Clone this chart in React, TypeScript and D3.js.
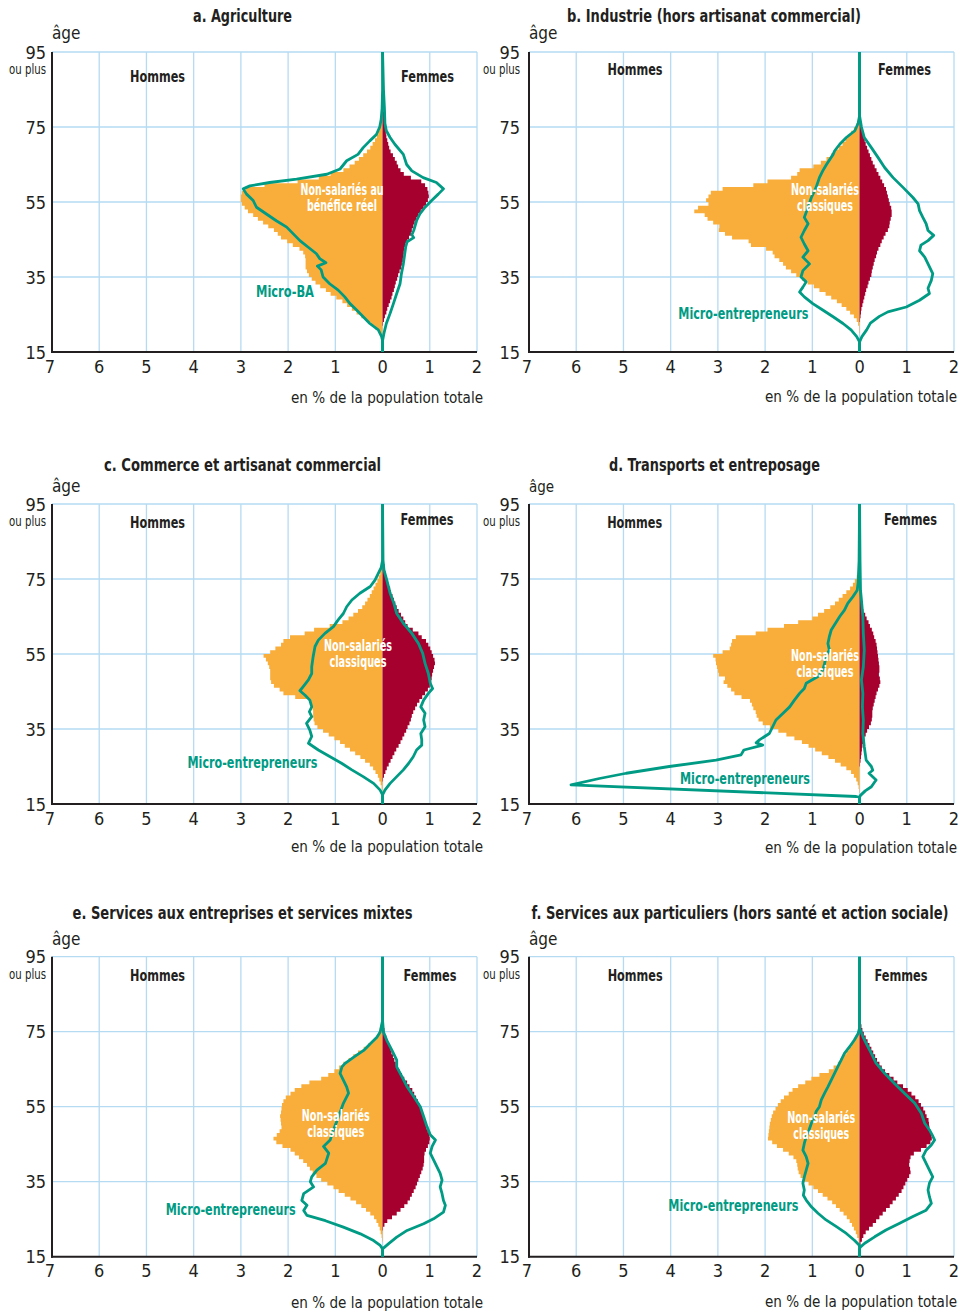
import React from 'react';
import * as d3 from 'd3';

const W = 967;
const H = 1313;
const FONT = "'Liberation Sans Narrow','Arial Narrow','DejaVu Sans Condensed','Roboto Condensed',sans-serif";
const ORANGE = '#F9AE3B';
const RED = '#A6002F';
const GREEN = '#009B84';
const GRID = '#B5DBF3';
const INK = '#231F20';

// Bars: one value per single year of age, starting at age 80 and going down to age 17
const BAR_TOP_AGE = 80;
const Y_TICKS = [95, 75, 55, 35, 15];
const X_TICKS = [-7, -6, -5, -4, -3, -2, -1, 0, 1, 2];
const X_TICK_LABELS = ['7', '6', '5', '4', '3', '2', '1', '0', '1', '2'];

// a. Agriculture
const aMenNS = [0, 0.01, 0.01, 0.02, 0.03, 0.04, 0.06, 0.09, 0.12, 0.16, 0.21, 0.26, 0.33, 0.41, 0.5, 0.59, 0.7, 0.83, 1.1, 1.35, 1.8, 2.5, 2.9, 2.98, 3.0, 3.0, 2.98, 2.92, 2.85, 2.74, 2.64, 2.53, 2.42, 2.3, 2.22, 2.15, 2.02, 1.9, 1.76, 1.68, 1.64, 1.63, 1.63, 1.63, 1.6, 1.56, 1.5, 1.42, 1.32, 1.2, 1.1, 0.98, 0.85, 0.75, 0.65, 0.55, 0.45, 0.35, 0.25, 0.16, 0.08, 0.03, 0.01, 0];
const aWomenNS = [0.02, 0.02, 0.03, 0.03, 0.04, 0.05, 0.06, 0.07, 0.08, 0.1, 0.12, 0.14, 0.17, 0.22, 0.26, 0.3, 0.33, 0.38, 0.45, 0.6, 0.82, 0.9, 0.95, 0.97, 0.98, 0.96, 0.92, 0.87, 0.81, 0.76, 0.72, 0.68, 0.65, 0.62, 0.6, 0.56, 0.52, 0.48, 0.46, 0.45, 0.44, 0.43, 0.41, 0.39, 0.36, 0.33, 0.31, 0.28, 0.26, 0.24, 0.21, 0.19, 0.16, 0.13, 0.1, 0.08, 0.05, 0.03, 0.01, 0, 0, 0, 0, 0];
const aMenMicro: [number, number][] = [[95, 0], [85, 0], [80, 0.01], [77, 0.03], [75, 0.06], [73, 0.13], [71.3, 0.27], [69.5, 0.41], [67.7, 0.52], [66, 0.76], [63.8, 0.9], [62.4, 1.18], [61.1, 1.82], [60.2, 2.39], [59.3, 2.81], [58.5, 2.95], [57.1, 2.88], [55.4, 2.74], [53.6, 2.67], [51.8, 2.46], [50, 2.25], [48.3, 2.03], [46.5, 1.89], [44.7, 1.75], [43, 1.58], [41.2, 1.4], [39.9, 1.33], [38.8, 1.2], [37.9, 1.38], [36.9, 1.3], [35, 1.26], [33.2, 1.12], [31.5, 0.94], [29.7, 0.8], [27.9, 0.69], [26.2, 0.55], [24.4, 0.41], [22.6, 0.27], [20.9, 0.09], [19.1, 0.02], [18, 0], [15, 0]];
const aWomenMicro: [number, number][] = [[95, 0], [85, 0.02], [80, 0.04], [76, 0.05], [74, 0.08], [72.2, 0.16], [70.4, 0.26], [67.7, 0.44], [65, 0.51], [63.3, 0.62], [61.5, 0.86], [60.2, 1.14], [58.5, 1.29], [57.1, 1.18], [55.4, 1.04], [53.6, 0.9], [51.8, 0.79], [50, 0.72], [47.4, 0.66], [46.3, 0.62], [45.5, 0.66], [44.4, 0.52], [43, 0.49], [41.2, 0.47], [38.5, 0.44], [35.9, 0.4], [33.2, 0.37], [30.6, 0.3], [27.9, 0.23], [25.3, 0.16], [22.6, 0.08], [20, 0.03], [18, 0], [15, 0]];

// b. Industrie
const bMenNS = [0, 0, 0.01, 0.02, 0.04, 0.07, 0.12, 0.18, 0.25, 0.3, 0.36, 0.44, 0.52, 0.6, 0.7, 0.82, 0.98, 1.27, 1.32, 1.45, 1.95, 2.25, 2.9, 3.15, 3.2, 3.25, 3.2, 3.42, 3.5, 3.28, 3.22, 3.1, 2.97, 2.98, 2.85, 2.7, 2.35, 2.3, 1.98, 1.84, 1.8, 1.7, 1.62, 1.56, 1.45, 1.34, 1.22, 1.1, 0.97, 0.85, 0.72, 0.6, 0.48, 0.38, 0.28, 0.2, 0.12, 0.06, 0.03, 0.01, 0.01, 0, 0, 0];
const bWomenNS = [0, 0.01, 0.01, 0.02, 0.03, 0.04, 0.06, 0.07, 0.09, 0.11, 0.13, 0.16, 0.19, 0.22, 0.25, 0.28, 0.32, 0.36, 0.4, 0.44, 0.48, 0.52, 0.56, 0.58, 0.6, 0.62, 0.64, 0.67, 0.68, 0.68, 0.66, 0.64, 0.63, 0.6, 0.55, 0.51, 0.47, 0.44, 0.4, 0.37, 0.35, 0.32, 0.3, 0.28, 0.26, 0.25, 0.22, 0.19, 0.17, 0.14, 0.12, 0.1, 0.08, 0.06, 0.04, 0.03, 0.02, 0.01, 0, 0, 0, 0, 0, 0];
const bMenMicro: [number, number][] = [[95, 0], [78, 0], [76, 0.03], [74, 0.1], [72.2, 0.28], [70.4, 0.42], [68.6, 0.53], [67.7, 0.56], [65, 0.7], [63.3, 0.78], [61.5, 0.85], [58.9, 0.92], [56.2, 1.02], [53.6, 1.09], [50.9, 1.17], [49.2, 1.09], [47.4, 1.17], [45.6, 1.24], [43.8, 1.17], [42, 1.09], [40.3, 1.2], [38.5, 1.06], [36.7, 1.2], [35, 1.24], [33.7, 1.13], [32.3, 1.2], [31, 1.27], [29.7, 1.17], [27.9, 0.99], [26.2, 0.78], [24.4, 0.56], [22.6, 0.35], [20.9, 0.18], [19.1, 0.06], [17.7, 0], [15, 0]];
const bWomenMicro: [number, number][] = [[95, 0], [78, 0], [75, 0.04], [72.2, 0.1], [69.5, 0.25], [66.9, 0.39], [64.2, 0.53], [61.5, 0.71], [58.9, 0.92], [56.2, 1.13], [54.5, 1.24], [52.7, 1.27], [50.9, 1.34], [49.2, 1.41], [47.4, 1.45], [46.1, 1.57], [44.7, 1.45], [43.5, 1.3], [42, 1.27], [40.3, 1.38], [38.5, 1.45], [35.9, 1.55], [34.1, 1.52], [32, 1.45], [30.6, 1.48], [28.8, 1.27], [27, 0.99], [25.7, 0.6], [24.5, 0.42], [22.7, 0.23], [20.9, 0.15], [19.1, 0.05], [17.7, 0], [15, 0]];

// c. Commerce et artisanat commercial
const cMenNS = [0.01, 0.01, 0.02, 0.03, 0.05, 0.08, 0.11, 0.15, 0.19, 0.23, 0.27, 0.32, 0.37, 0.43, 0.52, 0.62, 0.72, 0.85, 1.12, 1.45, 1.65, 1.96, 2.1, 2.15, 2.27, 2.38, 2.52, 2.47, 2.43, 2.4, 2.38, 2.38, 2.38, 2.36, 2.3, 2.18, 2.1, 1.85, 1.55, 1.5, 1.48, 1.47, 1.47, 1.46, 1.44, 1.38, 1.26, 1.14, 1.02, 0.9, 0.8, 0.69, 0.58, 0.47, 0.37, 0.27, 0.2, 0.15, 0.1, 0.07, 0.04, 0.02, 0.01, 0];
const cWomenNS = [0.02, 0.03, 0.04, 0.05, 0.06, 0.08, 0.1, 0.13, 0.16, 0.18, 0.21, 0.24, 0.27, 0.3, 0.34, 0.39, 0.44, 0.48, 0.53, 0.64, 0.76, 0.83, 0.92, 0.97, 1.01, 1.04, 1.07, 1.1, 1.11, 1.09, 1.07, 1.05, 1.04, 1.03, 1.0, 0.96, 0.9, 0.84, 0.78, 0.73, 0.69, 0.65, 0.62, 0.6, 0.57, 0.53, 0.5, 0.46, 0.42, 0.38, 0.34, 0.29, 0.25, 0.21, 0.17, 0.13, 0.09, 0.06, 0.03, 0.01, 0, 0, 0, 0];
const cMenMicro: [number, number][] = [[95, 0], [80, 0], [78, 0.03], [76.5, 0.09], [74.7, 0.16], [73, 0.26], [71.2, 0.48], [69.4, 0.65], [67.6, 0.76], [65.8, 0.83], [64.1, 0.94], [62.3, 1.04], [60.5, 1.22], [58.7, 1.36], [57, 1.43], [54.3, 1.47], [51.6, 1.5], [49.8, 1.5], [48.1, 1.57], [46.3, 1.68], [45.2, 1.75], [44, 1.64], [42.7, 1.54], [40.9, 1.5], [39.6, 1.55], [38.3, 1.5], [36.5, 1.61], [34.7, 1.54], [33, 1.5], [31.2, 1.57], [29.4, 1.36], [27.6, 1.11], [25.8, 0.86], [24.1, 0.65], [22.3, 0.41], [20.5, 0.19], [18.7, 0.05], [17.4, 0], [15, 0]];
const cWomenMicro: [number, number][] = [[95, 0], [80, 0.01], [77.4, 0.03], [74.7, 0.09], [71.2, 0.16], [68.5, 0.24], [65.8, 0.3], [63.2, 0.44], [60.5, 0.62], [57.8, 0.76], [55.2, 0.85], [52.5, 0.9], [49.8, 0.97], [47.2, 1.01], [45.8, 1.06], [44.5, 0.97], [42.7, 0.87], [40.9, 0.81], [39.2, 0.9], [37.4, 0.87], [35.6, 0.9], [33.8, 0.81], [32.1, 0.83], [30.7, 0.83], [29.4, 0.72], [27.6, 0.65], [25.8, 0.55], [24.1, 0.44], [22.3, 0.3], [20.5, 0.16], [18.7, 0.05], [17.4, 0], [15, 0]];

// d. Transports et entreposage
const dMenNS = [0, 0, 0.01, 0.02, 0.04, 0.06, 0.1, 0.14, 0.2, 0.28, 0.36, 0.44, 0.52, 0.62, 0.75, 0.88, 1.0, 1.3, 1.6, 1.95, 2.2, 2.62, 2.7, 2.72, 2.75, 2.9, 3.1, 3.05, 3.04, 3.02, 3.0, 2.98, 2.85, 2.88, 2.8, 2.72, 2.65, 2.5, 2.32, 2.28, 2.25, 2.2, 2.18, 2.14, 2.05, 1.9, 1.72, 1.55, 1.38, 1.22, 1.08, 0.94, 0.8, 0.66, 0.52, 0.4, 0.28, 0.18, 0.12, 0.07, 0.04, 0.02, 0.01, 0];
const dWomenNS = [0, 0, 0, 0, 0.01, 0.01, 0.01, 0.01, 0.02, 0.02, 0.02, 0.03, 0.04, 0.05, 0.08, 0.12, 0.15, 0.19, 0.22, 0.26, 0.29, 0.31, 0.34, 0.36, 0.37, 0.38, 0.39, 0.4, 0.41, 0.42, 0.42, 0.41, 0.43, 0.44, 0.42, 0.39, 0.36, 0.34, 0.32, 0.3, 0.28, 0.27, 0.27, 0.26, 0.24, 0.2, 0.16, 0.13, 0.1, 0.08, 0.06, 0.05, 0.04, 0.03, 0.02, 0.01, 0, 0, 0, 0, 0, 0, 0, 0];
const dMenMicro: [number, number][] = [[95, 0], [80, 0.01], [74, 0.03], [72, 0.05], [70.3, 0.14], [68.5, 0.25], [66.7, 0.32], [65, 0.42], [63.2, 0.51], [61.4, 0.6], [59.6, 0.64], [57.8, 0.67], [56.1, 0.64], [54.3, 0.71], [52.5, 0.74], [50.7, 0.78], [49, 0.88], [47.2, 1.13], [45.8, 1.17], [44.5, 1.27], [42.7, 1.38], [40.9, 1.48], [39.2, 1.62], [37.4, 1.77], [35.6, 1.84], [33.8, 1.91], [32.1, 2.12], [31.3, 2.19], [30.7, 2.05], [29.4, 2.45], [28.1, 2.51], [26.7, 3.04], [25, 4.03], [23.2, 4.94], [21.8, 5.51], [20.1, 6.11], [17, 0.07], [16.8, 0], [15, 0]];
const dWomenMicro: [number, number][] = [[95, 0], [80, 0.01], [72, 0.02], [69.4, 0.04], [65, 0.07], [60.5, 0.08], [56.1, 0.1], [51.6, 0.08], [48.1, 0.04], [44.5, 0.07], [40.9, 0.06], [37.4, 0.08], [33.8, 0.07], [30.3, 0.1], [26.7, 0.14], [25, 0.25], [24, 0.28], [23.2, 0.2], [21.4, 0.35], [19.6, 0.25], [18.5, 0.12], [17.3, 0.02], [16.8, 0], [15, 0]];

// e. Services aux entreprises et services mixtes
const eMenNS = [0, 0, 0.01, 0.02, 0.04, 0.06, 0.09, 0.13, 0.2, 0.3, 0.4, 0.52, 0.62, 0.72, 0.83, 0.92, 1.02, 1.15, 1.3, 1.55, 1.72, 1.86, 1.95, 2.05, 2.1, 2.13, 2.14, 2.15, 2.17, 2.16, 2.15, 2.14, 2.18, 2.24, 2.31, 2.25, 2.12, 1.95, 1.86, 1.77, 1.68, 1.6, 1.54, 1.48, 1.4, 1.3, 1.17, 1.04, 0.93, 0.8, 0.68, 0.56, 0.45, 0.35, 0.26, 0.18, 0.13, 0.09, 0.06, 0.04, 0.02, 0.01, 0, 0];
const eWomenNS = [0, 0, 0.01, 0.02, 0.03, 0.04, 0.05, 0.08, 0.11, 0.14, 0.17, 0.19, 0.22, 0.25, 0.28, 0.31, 0.36, 0.41, 0.46, 0.52, 0.57, 0.63, 0.67, 0.71, 0.75, 0.78, 0.81, 0.84, 0.86, 0.89, 0.91, 0.93, 0.96, 0.99, 1.0, 0.99, 0.96, 0.92, 0.89, 0.88, 0.88, 0.87, 0.85, 0.82, 0.79, 0.76, 0.73, 0.7, 0.66, 0.62, 0.58, 0.53, 0.46, 0.38, 0.3, 0.2, 0.1, 0.04, 0.01, 0, 0, 0, 0, 0];
const eMenMicro: [number, number][] = [[95, 0], [78, 0], [74.9, 0.05], [73.5, 0.12], [71.8, 0.26], [70, 0.4], [68.2, 0.61], [66.5, 0.8], [65.6, 0.86], [63.9, 0.9], [62.1, 0.83], [60.3, 0.76], [58.6, 0.72], [55.9, 0.83], [52.4, 0.93], [48.8, 1.04], [46.1, 1.11], [44.4, 1.25], [42.6, 1.14], [39.9, 1.21], [38.1, 1.39], [36.3, 1.5], [35, 1.53], [33.6, 1.46], [31.8, 1.67], [30, 1.71], [28.7, 1.6], [27.3, 1.67], [26, 1.6], [24.6, 1.21], [22.9, 0.83], [21.1, 0.47], [19.3, 0.19], [18, 0.05], [17.1, 0], [15, 0]];
const eWomenMicro: [number, number][] = [[95, 0], [78, 0], [74.9, 0.02], [72.7, 0.09], [70, 0.2], [67.4, 0.3], [65.6, 0.3], [63, 0.41], [60.3, 0.52], [57.7, 0.66], [55, 0.8], [52.4, 0.87], [49.7, 0.94], [47.5, 1.01], [46.1, 1.12], [44.4, 1.05], [42.6, 1.01], [40.8, 1.08], [39, 1.15], [37.2, 1.22], [35.4, 1.26], [33.6, 1.22], [31.8, 1.26], [30, 1.29], [28.7, 1.33], [26.9, 1.29], [25.1, 1.08], [23.8, 0.87], [22, 0.52], [20.2, 0.3], [18.5, 0.13], [17.1, 0], [15, 0]];

// f. Services aux particuliers
const fMenNS = [0, 0, 0, 0.01, 0.02, 0.03, 0.05, 0.09, 0.13, 0.17, 0.22, 0.28, 0.34, 0.4, 0.46, 0.55, 0.65, 0.85, 1.02, 1.15, 1.3, 1.42, 1.5, 1.6, 1.67, 1.73, 1.78, 1.83, 1.86, 1.88, 1.9, 1.91, 1.92, 1.93, 1.94, 1.85, 1.75, 1.62, 1.5, 1.4, 1.34, 1.32, 1.31, 1.29, 1.25, 1.17, 1.08, 0.98, 0.88, 0.78, 0.68, 0.58, 0.5, 0.42, 0.34, 0.27, 0.21, 0.16, 0.12, 0.08, 0.05, 0.02, 0.01, 0];
const fWomenNS = [0, 0, 0.01, 0.02, 0.04, 0.06, 0.09, 0.13, 0.17, 0.21, 0.25, 0.29, 0.33, 0.37, 0.42, 0.47, 0.54, 0.63, 0.72, 0.8, 0.92, 1.02, 1.1, 1.18, 1.25, 1.3, 1.35, 1.39, 1.42, 1.46, 1.47, 1.48, 1.5, 1.52, 1.53, 1.5, 1.42, 1.3, 1.15, 1.08, 1.06, 1.05, 1.07, 1.08, 1.05, 1.01, 0.97, 0.93, 0.89, 0.83, 0.77, 0.7, 0.64, 0.56, 0.49, 0.42, 0.35, 0.28, 0.2, 0.13, 0.08, 0.05, 0.02, 0];
const fMenMicro: [number, number][] = [[95, 0], [76, 0], [74.5, 0.03], [72.8, 0.11], [71, 0.21], [69.2, 0.32], [67.4, 0.39], [65.7, 0.46], [63.9, 0.53], [62.1, 0.6], [60.3, 0.67], [58.6, 0.74], [56.8, 0.81], [55, 0.85], [53.7, 0.92], [52.3, 0.95], [50.6, 1.02], [48.8, 1.07], [47, 1.13], [45.2, 1.17], [43.4, 1.2], [41.7, 1.13], [39.9, 1.09], [38.1, 1.13], [36.3, 1.17], [34.6, 1.2], [32.8, 1.17], [31.4, 1.19], [30.1, 1.13], [28.3, 1.02], [26.6, 0.88], [24.8, 0.71], [23, 0.49], [21.2, 0.28], [19.4, 0.11], [18.1, 0.01], [17.5, 0], [15, 0]];
const fWomenMicro: [number, number][] = [[95, 0], [76, 0], [73.7, 0.07], [71.9, 0.14], [69.2, 0.25], [66.6, 0.35], [63.9, 0.53], [61.2, 0.74], [58.6, 0.95], [55.9, 1.17], [53.2, 1.31], [50.6, 1.38], [48.8, 1.48], [47.4, 1.54], [46.1, 1.59], [44.8, 1.52], [43.4, 1.41], [41.7, 1.34], [39.9, 1.41], [38.1, 1.48], [36.3, 1.55], [34.6, 1.48], [32.8, 1.45], [31, 1.48], [29.2, 1.52], [27.4, 1.41], [25.7, 1.13], [23.9, 0.85], [22.1, 0.56], [20.3, 0.32], [18.6, 0.11], [17.5, 0.01], [17, 0], [15, 0]];

const TITLES = [
  'a. Agriculture',
  'b. Industrie (hors artisanat commercial)',
  'c. Commerce et artisanat commercial',
  'd. Transports et entreposage',
  'e. Services aux entreprises et services mixtes',
  'f. Services aux particuliers (hors santé et action sociale)',
];
const NS_LABELS = [
  ['Non-salariés au', 'bénéfice réel'],
  ['Non-salariés', 'classiques'],
  ['Non-salariés', 'classiques'],
  ['Non-salariés', 'classiques'],
  ['Non-salariés', 'classiques'],
  ['Non-salariés', 'classiques'],
];
const MICRO_LABELS = ['Micro-BA', 'Micro-entrepreneurs', 'Micro-entrepreneurs', 'Micro-entrepreneurs', 'Micro-entrepreneurs', 'Micro-entrepreneurs'];

// layout (pixels)
const PW = 425;
const PH = 300;
const LAYOUT = [
  { left: 52, top: 52, title: [190.5, -36, 99], age: -19, yl: 6, hom: [105.5, 25], fem: [375.5, 25], ns: [290, 138, 83, 70], mi: [233, 239.7, 58], xl: 345, xr: 6 },
  { left: 529, top: 52, title: [185, -36, 294], age: -19, yl: 9, hom: [106, 18], fem: [375.5, 18], ns: [296, 138, 68, 56], mi: [214.3, 262.3, 130], xl: 344.7, xr: 3 },
  { left: 52, top: 504, title: [190.5, -39, 277], age: -18, yl: 6, hom: [105.5, 19], fem: [375, 16], ns: [306, 142, 68, 57], mi: [200.5, 259.3, 130], xl: 342.7, xr: 6 },
  { left: 529, top: 504, title: [185.5, -39, 211], age: -17, yl: 9, hom: [105.7, 19], fem: [381.5, 16], ns: [296, 151.7, 68, 57], mi: [216, 275.3, 130], xl: 343.3, xr: 3 },
  { left: 52, top: 956.7, title: [190.5, -43.7, 340], age: -17.7, yl: 6, hom: [105.5, 19.3], fem: [378, 19.3], ns: [283.8, 159.3, 68, 57], mi: [178.7, 253.3, 130], xl: 345.5, xr: 6 },
  { left: 529, top: 956.7, title: [211, -43.7, 417], age: -17.7, yl: 9, hom: [106.2, 19.3], fem: [372, 19.3], ns: [292.3, 161.6, 68, 56], mi: [204.3, 249.3, 130], xl: 345, xr: 3 },
];

const SERIES = [
  [aMenNS, aWomenNS, aMenMicro, aWomenMicro],
  [bMenNS, bWomenNS, bMenMicro, bWomenMicro],
  [cMenNS, cWomenNS, cMenMicro, cWomenMicro],
  [dMenNS, dWomenNS, dMenMicro, dWomenMicro],
  [eMenNS, eWomenNS, eMenMicro, eWomenMicro],
  [fMenNS, fWomenNS, fMenMicro, fWomenMicro],
];

function Panel({ idx }: { idx: number }) {
  const L = LAYOUT[idx];
  const [menNS, womenNS, menMicro, womenMicro] = SERIES[idx] as any;
  const x = d3.scaleLinear().domain([-7, 2]).range([L.left, L.left + PW]);
  const y = d3.scaleLinear().domain([15, 95]).range([L.top + PH, L.top]);

  const barPath = (vals: number[], sign: number) => {
    const p = d3.path();
    const x0 = x(0);
    p.moveTo(x0, y(BAR_TOP_AGE + 1));
    vals.forEach((v, i) => {
      const a = BAR_TOP_AGE - i;
      p.lineTo(x(sign * v), y(a + 1));
      p.lineTo(x(sign * v), y(a));
    });
    p.lineTo(x0, y(BAR_TOP_AGE - vals.length + 1));
    p.closePath();
    return p.toString();
  };
  const line = (pts: [number, number][], sign: number) =>
    d3.line<[number, number]>().x((d) => x(sign * d[1])).y((d) => y(d[0]))(pts) as string;

  const ttl = L.title as number[];
  return (
    <g>
      {X_TICKS.map((t) => (
        <line key={'gx' + t} x1={x(t)} x2={x(t)} y1={y(95)} y2={y(15)} stroke={GRID} strokeWidth={1.3} />
      ))}
      {[95, 75, 55, 35].map((t) => (
        <line key={'gy' + t} x1={x(-7)} x2={x(2)} y1={y(t)} y2={y(t)} stroke={GRID} strokeWidth={1.3} />
      ))}
      <path d={barPath(menNS, -1)} fill={ORANGE} />
      <path d={barPath(womenNS, 1)} fill={RED} />
      <line x1={x(-7)} x2={x(-7)} y1={y(95)} y2={y(15) + 1} stroke={INK} strokeWidth={2} />
      <line x1={x(-7) - 1} x2={x(2)} y1={y(15)} y2={y(15)} stroke={INK} strokeWidth={2} />
      <path d={line(menMicro, -1)} fill="none" stroke={GREEN} strokeWidth={2.8} strokeLinejoin="round" />
      <path d={line(womenMicro, 1)} fill="none" stroke={GREEN} strokeWidth={2.8} strokeLinejoin="round" />
      {Y_TICKS.map((t) => (
        <text key={'yt' + t} x={x(-7) - L.yl} y={y(t)} textAnchor="end" dominantBaseline="central" fontSize={18} fill={INK}>
          {t}
        </text>
      ))}
      <text x={x(-7) - L.yl} y={y(95) + 17} textAnchor="end" dominantBaseline="central" fontSize={13.5} fill={INK} textLength={37} lengthAdjust="spacingAndGlyphs">
        ou plus
      </text>
      {X_TICKS.map((t, i) => (
        <text key={'xt' + t} x={x(t) - (i === 0 ? 2 : 0)} y={y(15) + 14} textAnchor="middle" dominantBaseline="central" fontSize={18} fill={INK}>
          {X_TICK_LABELS[i]}
        </text>
      ))}
      <text x={x(2) + L.xr} y={L.top + L.xl} textAnchor="end" dominantBaseline="central" fontSize={16} fill={INK} textLength={192} lengthAdjust="spacingAndGlyphs">
        en % de la population totale
      </text>
      <text x={L.left + ttl[0]} y={L.top + ttl[1]} textAnchor="middle" dominantBaseline="central" fontSize={17} fontWeight="bold" fill={INK} textLength={ttl[2]} lengthAdjust="spacingAndGlyphs">
        {TITLES[idx]}
      </text>
      <text x={L.left} y={L.top + L.age} dominantBaseline="central" fontSize={idx === 3 ? 15 : 17} fill={INK}>
        âge
      </text>
      <text x={L.left + L.hom[0]} y={L.top + L.hom[1]} textAnchor="middle" dominantBaseline="central" fontSize={15.5} fontWeight="bold" fill={INK} textLength={55} lengthAdjust="spacingAndGlyphs">
        Hommes
      </text>
      <text x={L.left + L.fem[0]} y={L.top + L.fem[1]} textAnchor="middle" dominantBaseline="central" fontSize={15.5} fontWeight="bold" fill={INK} textLength={53} lengthAdjust="spacingAndGlyphs">
        Femmes
      </text>
      <text x={L.left + L.ns[0]} y={L.top + L.ns[1]} textAnchor="middle" dominantBaseline="central" fontSize={15} fontWeight="bold" fill="#fff" textLength={L.ns[2]} lengthAdjust="spacingAndGlyphs">
        {NS_LABELS[idx][0]}
      </text>
      <text x={L.left + L.ns[0]} y={L.top + L.ns[1] + 16} textAnchor="middle" dominantBaseline="central" fontSize={15} fontWeight="bold" fill="#fff" textLength={L.ns[3]} lengthAdjust="spacingAndGlyphs">
        {NS_LABELS[idx][1]}
      </text>
      <text x={L.left + L.mi[0]} y={L.top + L.mi[1]} textAnchor="middle" dominantBaseline="central" fontSize={15} fontWeight="bold" fill={GREEN} textLength={L.mi[2]} lengthAdjust="spacingAndGlyphs">
        {MICRO_LABELS[idx]}
      </text>
    </g>
  );
}

export default function App() {
  return (
    <svg
      width={W}
      height={H}
      viewBox={`0 0 ${W} ${H}`}
      style={{ position: 'absolute', left: 0, top: 0, background: '#fff', fontFamily: FONT }}
    >
      <rect x={0} y={0} width={W} height={H} fill="#fff" />
      {LAYOUT.map((_, i) => (
        <Panel key={i} idx={i} />
      ))}
    </svg>
  );
}
